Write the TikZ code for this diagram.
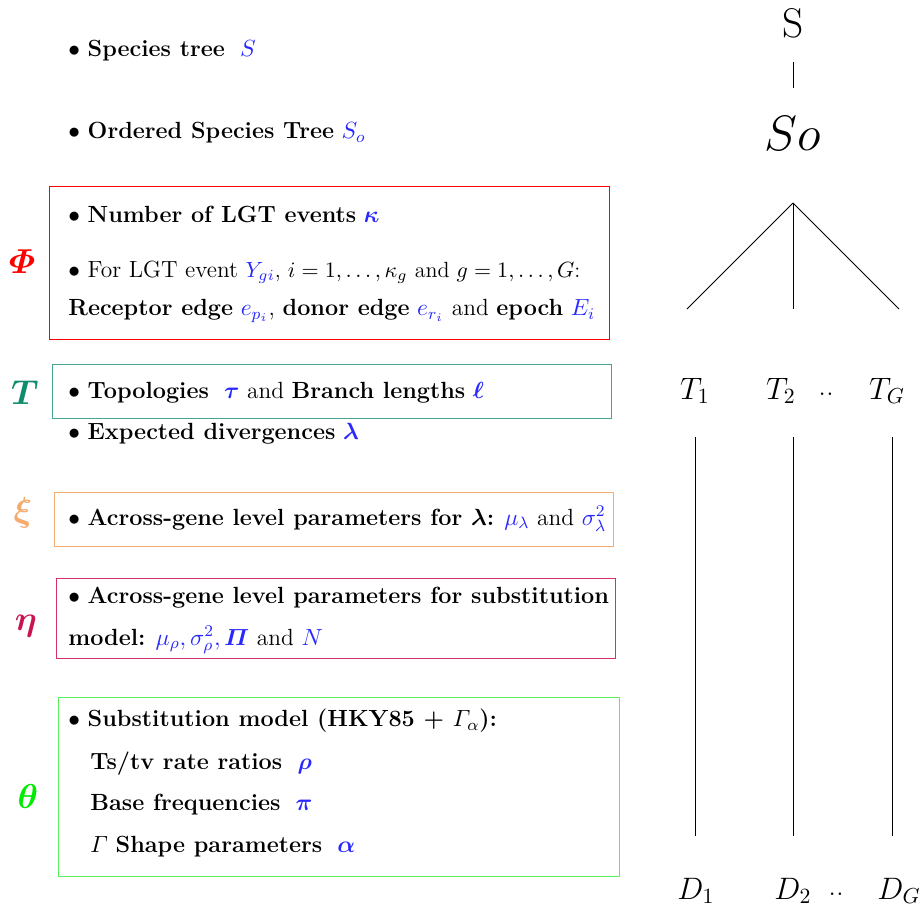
\documentclass[tikz,border=0pt]{standalone}
\usepackage{fix-cm}
\usepackage{amsmath}
\definecolor{mblue}{RGB}{40,40,255}
\definecolor{tealT}{RGB}{16,140,110}
\definecolor{tealbox}{RGB}{70,165,145}
\definecolor{orangeX}{RGB}{245,170,110}
\definecolor{crimsonE}{RGB}{200,20,80}
\definecolor{crimsonbox}{RGB}{210,50,100}
\definecolor{greenT}{RGB}{0,235,0}
\definecolor{greenbox}{RGB}{90,240,90}
\newcommand{\bl}[1]{\textcolor{mblue}{#1}}
\begin{document}
\begin{tikzpicture}[x=0.5pt,y=-0.5pt,
  txt/.style={anchor=west,inner sep=0pt,font=\fontsize{11.7}{14}\selectfont},
  sym/.style={inner sep=0pt,font=\LARGE},
  lab/.style={inner sep=0pt,font=\fontsize{15.5}{18}\selectfont},
  frame/.style={line width=0.5pt},
  edge/.style={line width=0.45pt}]
\useasboundingbox (0,0) rectangle (923,907);

% left column
\node[txt] (sp) at (68,51) {$\bullet$ \textbf{Species tree}\ \ \bl{$S$}};
\node[txt] (osp) at (68,133) {$\bullet$ \textbf{Ordered Species Tree} \bl{$S_o$}};

\draw[frame,red] (49,186) rectangle (609,339);
\node[sym,text=red] (phi) at (22,262) {$\boldsymbol{\varPhi}$};
\node[txt] (lgt) at (68,214) {$\bullet$ \textbf{Number of LGT events} \bl{$\boldsymbol{\kappa}$}};
\node[txt] (for) at (68,272) {$\bullet$ For LGT event {\fontsize{11}{14}\selectfont\bl{$Y_{gi}$}, $i=1,\ldots,\kappa_g$ and $g=1,\ldots,G$:}};
\node[txt] (rec) at (68,311) {\textbf{Receptor edge} \bl{$e_{p_i}$}, \textbf{donor edge} \bl{$e_{r_i}$} and \textbf{epoch} \bl{$E_i$}};

\draw[frame,tealbox] (52,364) rectangle (611,418);
\node[sym,text=tealT] (tt) at (25,393) {$\boldsymbol{T}$};
\node[txt] (top) at (68,393) {$\bullet$ \textbf{Topologies}\ \ \bl{$\boldsymbol{\tau}$} and \textbf{Branch lengths} \bl{$\boldsymbol{\ell}$}};
\node[txt] (exp) at (68,434) {$\bullet$ \textbf{Expected divergences} \bl{$\boldsymbol{\lambda}$}};

\draw[frame,orangeX] (54,492) rectangle (613,546);
\node[sym,text=orangeX] (xi) at (23,513) {$\boldsymbol{\xi}$};
\node[txt] (acr) at (68,519) {$\bullet$ \textbf{Across-gene level parameters for $\boldsymbol{\lambda}$:} \bl{$\mu_\lambda$} and \bl{$\sigma^2_\lambda$}};

\draw[frame,crimsonbox] (56,578) rectangle (615,658);
\node[sym,text=crimsonE] (eta) at (26,626) {$\boldsymbol{\eta}$};
\node[txt] (acs) at (68,598) {$\bullet$ \textbf{Across-gene level parameters for substitution}};
\node[txt] (mod) at (68,640) {\textbf{model:} \bl{$\mu_\rho,\sigma^2_\rho,\boldsymbol{\varPi}$} and \bl{$N$}};

\draw[frame,greenbox] (58,697) rectangle (619,876);
\node[sym,text=greenT] (theta) at (28,796) {$\boldsymbol{\theta}$};
\node[txt] (sub) at (68,721) {$\bullet$ \textbf{Substitution model (HKY85 + $\varGamma_\alpha$):}};
\node[txt] (ts) at (90,764) {\textbf{Ts/tv rate ratios}\ \ \bl{$\boldsymbol{\rho}$}};
\node[txt] (bf) at (90,805) {\textbf{Base frequencies}\ \ \bl{$\boldsymbol{\pi}$}};
\node[txt] (gs) at (90,847) {$\varGamma$ \textbf{Shape parameters}\ \ \bl{$\boldsymbol{\alpha}$}};

% right column
\node[inner sep=0pt,font=\huge] (S) at (793,23) {S};
\coordinate (s1) at (793,62);
\coordinate (s2) at (793,88);
\draw[edge] (s1) -- (s2);
\node[inner sep=0pt,font=\Huge] (So) at (793,133) {$So$};

\coordinate (apex) at (793,203);
\coordinate (l1) at (687,309);
\coordinate (l2) at (793,309);
\coordinate (l3) at (899,309);
\draw[edge] (apex) -- (l1);
\draw[edge] (apex) -- (l2);
\draw[edge] (apex) -- (l3);

\node[lab] (T1) at (695,391) {$T_1$};
\node[lab] (T2) at (781,391) {$T_2$};
\node[lab] (Td) at (826,394) {..};
\node[lab] (TG) at (887,391) {$T_G$};

\coordinate (a1) at (695,437); \coordinate (b1) at (695,836);
\coordinate (a2) at (793,437); \coordinate (b2) at (793,836);
\coordinate (a3) at (892,437); \coordinate (b3) at (892,836);
\draw[edge] (a1) -- (b1);
\draw[edge] (a2) -- (b2);
\draw[edge] (a3) -- (b3);

\node[lab] (D1) at (696,891) {$D_1$};
\node[lab] (D2) at (793,891) {$D_2$};
\node[lab] (Dd) at (836,894) {..};
\node[lab] (DG) at (899,891) {$D_G$};
\end{tikzpicture}
\end{document}
